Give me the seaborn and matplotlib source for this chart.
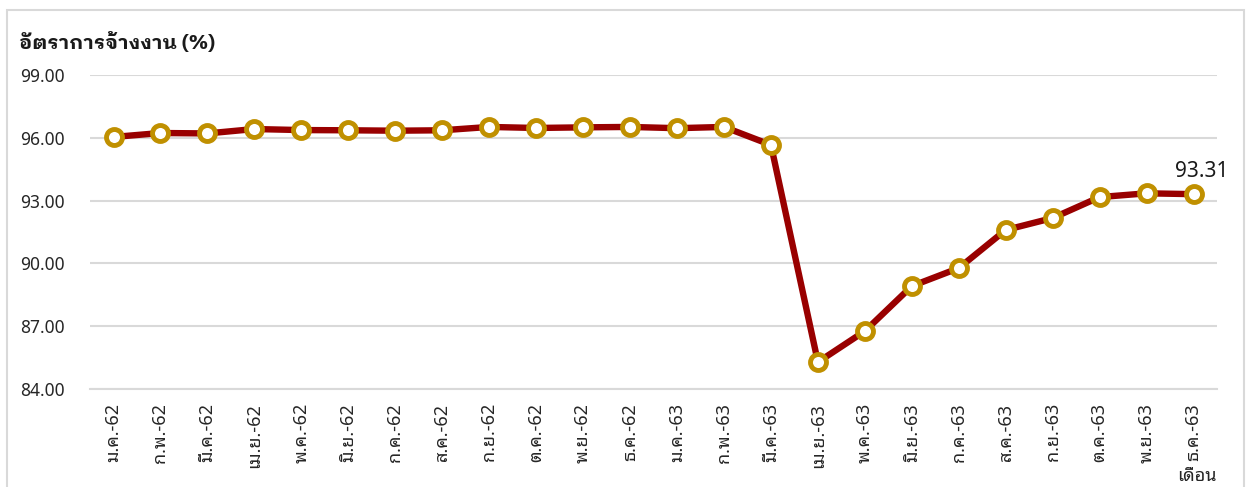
import matplotlib
matplotlib.use("Agg")
from matplotlib import pyplot as plt
from matplotlib.patches import Rectangle
import pandas as pd
import seaborn as sns

# Thai month abbreviations, Buddhist era years 2562-2563
thai_months = ["ม.ค.", "ก.พ.", "มี.ค.", "เม.ย.", "พ.ค.", "มิ.ย.",
               "ก.ค.", "ส.ค.", "ก.ย.", "ต.ค.", "พ.ย.", "ธ.ค."]
years = ["62", "63"]
months = [m + "-" + y for y in years for m in thai_months]

employment_rate = [96.04, 96.23, 96.21, 96.42, 96.37, 96.36,
                   96.34, 96.36, 96.52, 96.47, 96.50, 96.52,
                   96.46, 96.52, 95.66, 85.29, 86.77, 88.92,
                   89.78, 91.60, 92.17, 93.17, 93.35, 93.31]

y_ticks = [84, 87, 90, 93, 96, 99]
y_title = "อัตราการจ้างงาน (%)"
x_title = "เดือน"

df = pd.DataFrame({"month": months, "rate": employment_rate})

sns.set_style("white")
plt.rcParams["font.family"] = ["Noto Sans Thai Looped", "DejaVu Sans"]
bold_font = ["IBM Plex Sans Thai Looped", "Noto Sans Thai Looped", "DejaVu Sans"]

fig = plt.figure(figsize=(12.47, 4.87), dpi=100)
ax = fig.add_axes([0.0722, 0.201, 0.9038, 0.645])

# outer frame of the chart area
fig.patches.append(Rectangle((7 / 1247, -0.1), 1237 / 1247, 1.1 - 10 / 487,
                             transform=fig.transFigure, fill=False,
                             edgecolor="#d9d9d9", linewidth=1.5))

sns.lineplot(data=df, x="month", y="rate", sort=False, ax=ax,
             color="#990000", linewidth=4.6, marker="o", markersize=11.5,
             markerfacecolor="white", markeredgecolor="#c09000",
             markeredgewidth=3.5, zorder=3)

ax.set_xlim(-0.5, len(months) - 0.5)
ax.set_ylim(84, 99)
ax.set_yticks(y_ticks)
ax.set_yticklabels([f"{v:.2f}" for v in y_ticks], fontsize=12.5, color="#262626")
ax.yaxis.grid(True, color="#d9d9d9", linewidth=1.5)
ax.set_axisbelow(True)

ax.set_xticks(range(len(months)))
ax.set_xticklabels(months, rotation=90, fontsize=13, color="#262626")
ax.set_xticks([i - 0.5 for i in range(len(months) + 1)], minor=True)
ax.tick_params(axis="x", which="major", length=0, pad=10)
ax.tick_params(axis="x", which="minor", length=7, width=1.5, color="#d9d9d9",
               direction="out")
ax.tick_params(axis="y", length=0, pad=18)

for side in ["top", "right", "left"]:
    ax.spines[side].set_visible(False)
ax.spines["bottom"].set_color("#d9d9d9")
ax.spines["bottom"].set_linewidth(1.5)

ax.set_xlabel("")
ax.set_ylabel("")
fig.text(19 / 1247, 1 - 42 / 487, y_title, fontsize=14.5, fontweight="bold",
         family=bold_font, va="center", ha="left", color="#1a1a1a")
fig.text(1217 / 1247, 1 - 476 / 487, x_title, fontsize=13, va="center",
         ha="right", color="#262626")

ax.annotate(f"{employment_rate[-1]:.2f}", (len(months) - 1, employment_rate[-1]),
            xytext=(6, 9), textcoords="offset points", ha="center",
            va="bottom", fontsize=15, color="#1a1a1a")

fig.savefig("out.png", dpi=100)
